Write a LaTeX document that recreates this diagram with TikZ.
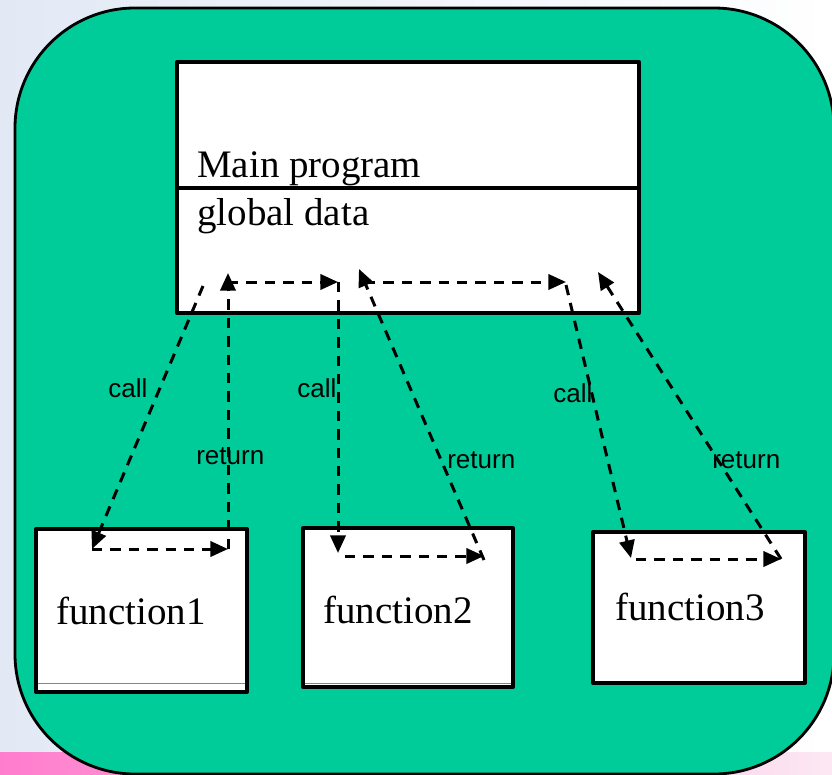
\documentclass[tikz,border=0pt]{standalone}
\usepackage{fontspec}
\setmainfont{Liberation Serif}
\newfontfamily\labelfont{Liberation Sans}
\usetikzlibrary{arrows.meta}
\definecolor{boardgreen}{RGB}{0,204,153}
\definecolor{paleblue}{RGB}{226,233,245}
\definecolor{hotpink}{RGB}{255,125,205}
\definecolor{palepink}{RGB}{252,232,243}
\tikzset{
	box/.style={draw, fill=white, line width=0.1cm},
	flow/.style={dash pattern=on 2.6mm off 2mm, line width=0.75mm, -{Triangle[length=4.4mm,width=3.8mm]}},
	boxtext/.style={anchor=base west, inner sep=0pt, font=\fontsize{27.7}{30}\selectfont},
	lbl/.style={anchor=base west, inner sep=0pt, font=\labelfont\fontsize{18.5}{20}\selectfont},
}
\begin{document}
\begin{tikzpicture}[x=0.025cm, y=-0.025cm, line join=round]
	\useasboundingbox (0,0) rectangle (832,774);
	% background
	\shade[left color=paleblue, right color=white] (0,0) rectangle (832,752);
	\shade[left color=hotpink, right color=palepink] (0,752) rectangle (832,774);
	\draw[fill=boardgreen, line width=0.07cm, rounded corners=3cm] (15,8) rectangle (834,774);
	% main program
	\draw[box] (177,62) rectangle (639,313);
	\draw[line width=0.1cm] (177,188) -- (639,188);
	\node[boxtext] (mainprog) at (197,178) {Main program};
	\node[boxtext] (gdata) at (197,226) {global data};
	% functions
	\foreach \n/\l/\t/\r/\b/\tx/\ty in {1/36/529/247/692/56/624, 2/303/528/513/687/323/623, 3/593/532/805/683/615/620}{
		\draw[box] (\l,\t) rectangle (\r,\b);
		\node[boxtext] (f\n) at (\tx,\ty) {function\n};
	}
	\draw[boardgreen!60!gray, line width=0.3pt] (38,683) -- (245,683) (305,683) -- (511,683);
	% arrow ends
	\coordinate (c1a) at (203,286); \coordinate (c1b) at (92,549);
	\coordinate (r1a) at (228,549); \coordinate (r1b) at (228,273);
	\coordinate (m1a) at (228,282); \coordinate (m1b) at (338,282);
	\coordinate (c2b) at (338,553);
	\coordinate (h2a) at (345,556); \coordinate (r2a) at (484,556);
	\coordinate (r2s) at (484,560); \coordinate (r2b) at (359,269);
	\coordinate (m2a) at (365,282); \coordinate (m2b) at (566,282);
	\coordinate (c3a) at (566,285); \coordinate (c3b) at (631,558);
	\coordinate (h3a) at (636,559); \coordinate (r3a) at (781,559);
	\coordinate (r3b) at (598,272);
	% calls and returns
	\draw[flow] (c1a) -- (c1b);
	\draw[flow] (c1b) -- (r1a);
	\draw[flow] (r1a) -- (r1b);
	\draw[flow] (m1a) -- (m1b);
	\draw[flow] (m1b) -- (c2b);
	\draw[flow] (h2a) -- (r2a);
	\draw[flow] (r2s) -- (r2b);
	\draw[flow] (m2a) -- (m2b);
	\draw[flow] (c3a) -- (c3b);
	\draw[flow] (h3a) -- (r3a);
	\draw[flow] (r3a) -- (r3b);
	% labels
	\node[lbl] (call1) at (108,397) {call};
	\node[lbl] (ret1) at (196,464) {return};
	\node[lbl] (call2) at (297,397) {call};
	\node[lbl] (ret2) at (447,468) {return};
	\node[lbl] (call3) at (553,402) {call};
	\node[lbl] (ret3) at (712,468) {return};
\end{tikzpicture}
\end{document}
